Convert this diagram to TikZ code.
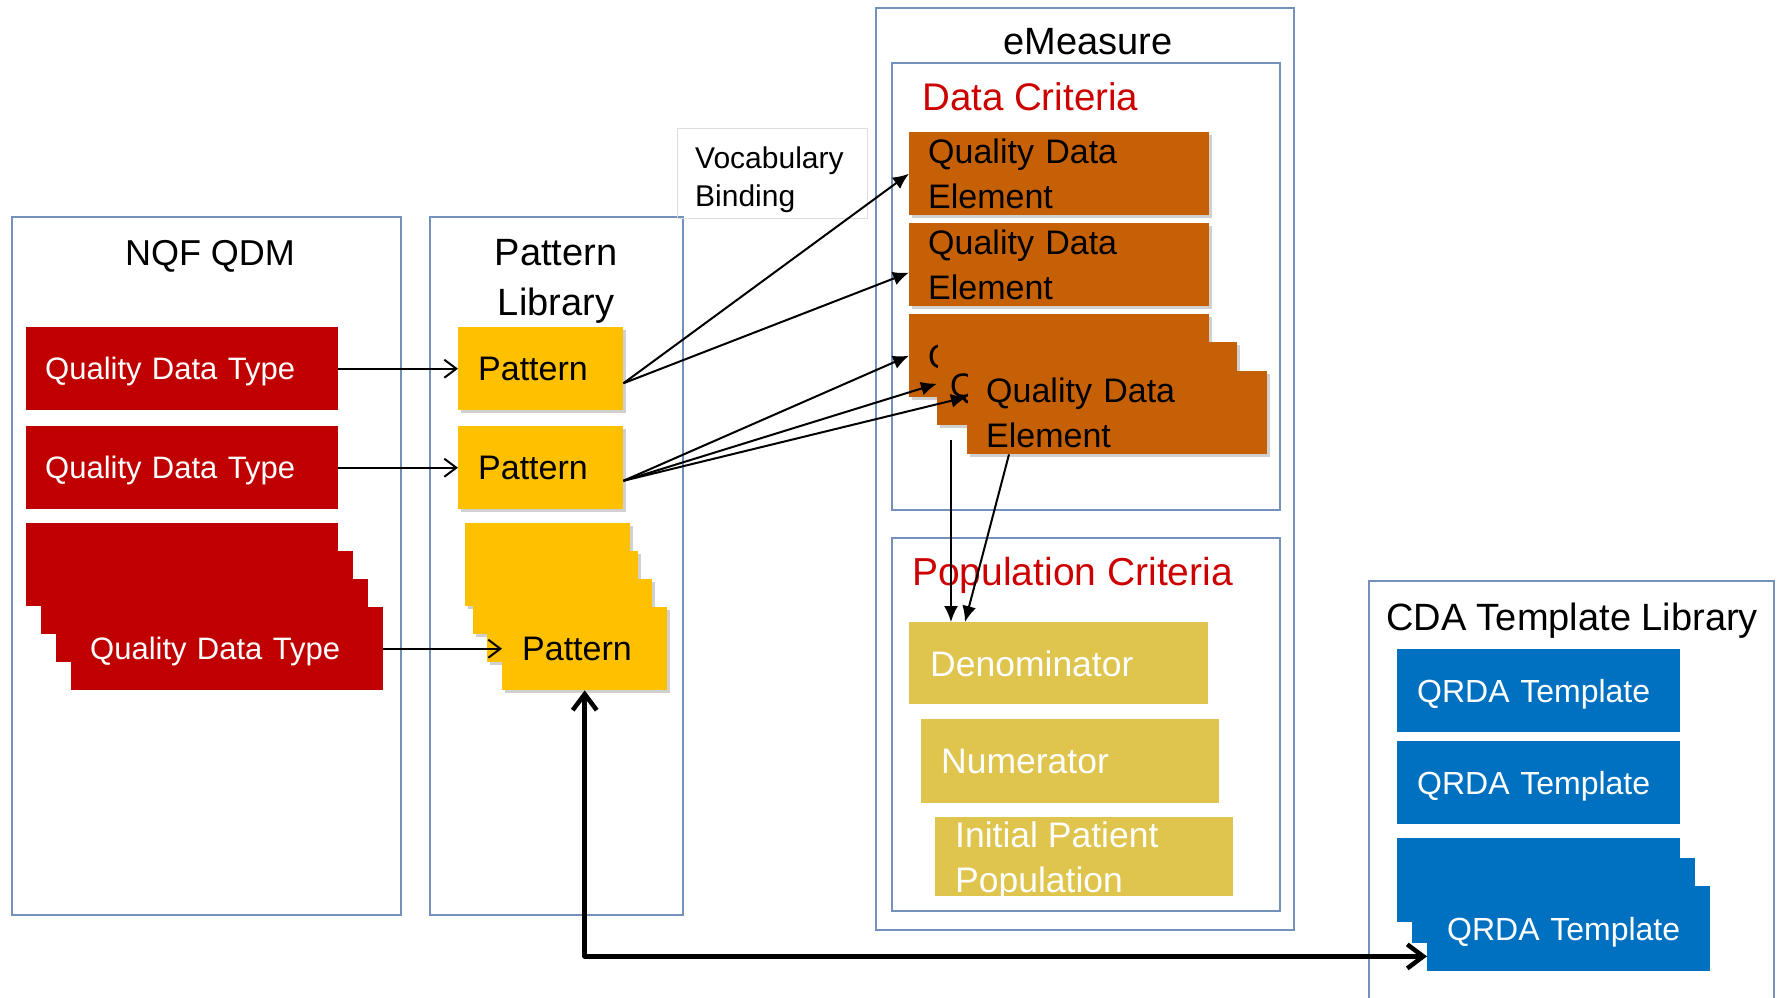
\documentclass[tikz,border=0pt]{standalone}
\usepackage{fontspec}
\setmainfont{Liberation Sans}
\usetikzlibrary{arrows.meta,shadows,calc}
\definecolor{qred}{RGB}{192,0,0}
\definecolor{pyel}{RGB}{255,192,0}
\definecolor{qorg}{RGB}{198,96,6}
\definecolor{gold}{RGB}{223,196,78}
\definecolor{qblue}{RGB}{0,112,192}
\definecolor{frame}{RGB}{115,145,186}
\definecolor{vgray}{RGB}{222,222,222}
\definecolor{critred}{RGB}{204,0,0}

\begin{document}
\begin{tikzpicture}[x=1pt,y=-1pt,
  cont/.style={draw=frame, line width=1.5pt, inner sep=0pt, anchor=north west},
  ttl/.style={inner sep=0pt, font=\fontsize{38}{50}\selectfont},
  crit/.style={inner sep=0pt, text=critred, font=\fontsize{38.5}{46}\selectfont},
  card/.style={inner ysep=0pt, align=left, anchor=north west, minimum height=83pt},
  oneline/.style={text depth=0pt},
  softshadow/.style={drop shadow={shadow xshift=3pt, shadow yshift=-3pt, opacity=0.3, fill=black!60}},
  qdt/.style={card, oneline, fill=qred, text=white, font=\fontsize{31}{37}\selectfont, inner xsep=19pt, text width=274pt},
  pat/.style={card, oneline, fill=pyel, font=\fontsize{34}{40}\selectfont, inner xsep=20pt, text width=125pt, softshadow},
  qde/.style={card, fill=qorg, font=\fontsize{34}{45}\selectfont, inner xsep=19pt, text width=262pt, softshadow},
  gld/.style={card, fill=gold, text=white, font=\fontsize{35.5}{45}\selectfont, inner xsep=20pt, text width=258pt},
  qrda/.style={card, oneline, fill=qblue, text=white, font=\fontsize{32}{38}\selectfont, inner xsep=20pt, text width=243pt},
  feed/.style={line width=2pt, -{Straight Barb[length=12pt,width=18pt]}},
  bind/.style={line width=2pt, -{Latex[length=16pt,width=14pt]}},
  link/.style={line width=4.5pt, line join=round, {Straight Barb[length=16pt,width=24pt]}-{Straight Barb[length=16pt,width=24pt]}}
]
\useasboundingbox (0,0) rectangle (1781,997);
\clip (0,0) rectangle (1781,997);
\fill[white] (0,0) rectangle (1781,997);

% containers
\node[cont, minimum width=389pt, minimum height=698pt] (nqf) at (11,216) {};
\node[cont, minimum width=253pt, minimum height=698pt] (patlib) at (429,216) {};
\node[cont, minimum width=418pt, minimum height=922pt] (emeasure) at (875,7) {};
\node[cont, minimum width=388pt, minimum height=447pt] (datacrit) at (891,62) {};
\node[cont, minimum width=388pt, minimum height=373pt] (popcrit) at (891,537) {};
\node[cont, minimum width=405pt, minimum height=440pt] (cda) at (1368,580) {};
\node[draw=vgray, line width=1pt, inner sep=0pt, anchor=north west,
      minimum width=190pt, minimum height=90pt] (vocab) at (677,128) {};

% titles
\node[ttl, font=\fontsize{36}{44}\selectfont, anchor=base] (tnqf) at (210,265) {NQF QDM};
\node[ttl, align=center] (tpat) at (556,281) {Pattern\\Library};
\node[ttl, anchor=base] (tem) at (1088,54) {eMeasure};
\node[crit, anchor=base west] (tdc) at (922,110) {Data Criteria};
\node[crit, font=\fontsize{39}{46}\selectfont, anchor=base west] (tpc) at (912,585) {Population Criteria};
\node[ttl, anchor=base west] (tcda) at (1386,630) {CDA Template Library};
\node[inner sep=0pt, align=left, anchor=west, font=\fontsize{30}{38}\selectfont] (tvocab) at (695,179.4) {Vocabulary\\Binding};

% quality data types
\node[qdt] (qdt1) at (26,327) {Quality Data Type};
\node[qdt] (qdt2) at (26,426) {Quality Data Type};
\node[qdt] (qdtA) at (26,523) {};
\node[qdt] (qdtB) at (41,551) {};
\node[qdt] (qdtC) at (56,579) {};
\node[qdt] (qdtD) at (71,607) {Quality Data Type};

% patterns
\node[pat] (pat1) at (458,327) {Pattern};
\node[pat] (pat2) at (458,426) {Pattern};
\node[pat] (patA) at (465,523) {};
\node[pat] (patB) at (473,551) {};
\node[pat] (patC) at (487,579) {};
\node[pat] (patD) at (502,607) {Pattern};

% quality data elements
\node[qde] (qde1) at (909,132) {Quality Data\\Element};
\node[qde] (qde2) at (909,223) {Quality Data\\Element};
\node[qde] (qdeA) at (909,314) {};
\node[qde] (qdeB) at (937,342) {};
\node[qde] (qdeC) at (967,371) {Quality Data\\Element};
% labels of the two cards lying underneath: only their uncovered left strips show
\begin{scope}
  \clip (qdeA.north west) rectangle (qdeB.west |- qdeA.south);
  \node[inner sep=0pt, anchor=base west, font=\fontsize{34}{45}\selectfont] (qdeAtxt) at (928,368) {Quality Data Element};
\end{scope}
\begin{scope}
  \clip (qdeB.north west) rectangle (qdeC.west |- qdeB.south);
  \node[inner sep=0pt, anchor=base west, font=\fontsize{34}{45}\selectfont] (qdeBtxt) at (950,397) {Quality Data Element};
\end{scope}

% population criteria
\node[gld, oneline, inner xsep=21pt, text width=257pt, minimum height=82pt] (den) at (909,622) {Denominator};
\node[gld, oneline, minimum height=84pt] (num) at (921,719) {Numerator};
\node[gld, minimum height=79pt] (ipp) at (935,817) {};
\node[inner sep=0pt, align=left, anchor=west, text=white, font=\fontsize{35.5}{45}\selectfont] (ipptxt) at (955,860.5) {Initial Patient\\Population};

% QRDA templates
\node[qrda] (q1) at (1397,649) {QRDA Template};
\node[qrda] (q2) at (1397,741) {QRDA Template};
\node[qrda, minimum height=84pt] (q3A) at (1397,838) {};
\node[qrda, minimum height=85pt] (q3B) at (1412,858) {};
\node[qrda, minimum height=85pt] (q3C) at (1427,886) {QRDA Template};

% type -> pattern
\draw[feed] (qdt1.east) -- (pat1.west);
\draw[feed] (qdt2.east) -- (pat2.west);
\draw[feed] (qdtD.east) -- (patD.west);

% pattern -> data element (vocabulary binding)
\draw[bind] (pat1.-10) -- (qde1.west);
\draw[bind] (pat1.-10) -- (qde2.183);
\draw[bind] (pat2.-9) -- (qdeA.west);
\draw[bind] (pat2.-9) -- (qdeB.west);
\draw[bind] (pat2.-9) -- (qdeC.174);

% data elements -> denominator
\coordinate (dsA) at (951,440);
\draw[bind] (dsA) -- (dsA |- den.north);
\coordinate (dsB) at ($(qdeC.south west)+(42,0)$);
\draw[bind] (dsB) -- ($(den.north west)+(56,0)$);

% pattern <-> CDA template
\coordinate (bend) at ($(patD.south)+(0,266)$);
\draw[link] (patD.south) -- (bend) -- (bend -| q3C.west);
\end{tikzpicture}
\end{document}
